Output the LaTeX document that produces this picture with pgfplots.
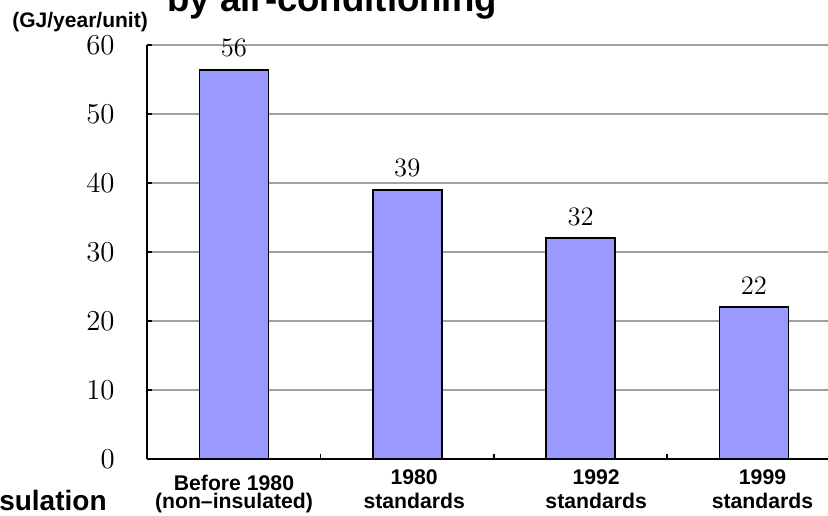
\documentclass[border=0pt]{standalone}
\usepackage{pgfplots}
\pgfplotsset{compat=1.18}
\usepackage{fontspec}
\setsansfont{Liberation Sans}
\definecolor{barblue}{HTML}{9999FF}
\definecolor{gridgray}{HTML}{A0A0A0}
\begin{document}
\begin{tikzpicture}[x=1pt,y=1pt]
\path[use as bounding box] (-73.5,-28) rectangle (340.5,229.5);
\clip (-73.5,-28) rectangle (340.5,229.5);
\begin{axis}[
  at={(0,0)}, anchor=south west,
  scale only axis, width=340.5pt, height=207pt,
  xmin=-0.502, xmax=3.428, ymin=0, ymax=60,
  axis x line*=bottom, axis y line*=left,
  axis line style={line width=0.75pt, black},
  ytick={0,10,...,60},
  ymajorgrids, grid style={gridgray, line width=0.75pt},
  tick align=inside,
  major tick length=2.5pt,
  tick style={black, line width=0.75pt},
  xtick={0.5,1.5,2.5}, xticklabels={},
  extra x ticks={0,1.04,2.09,3.05},
  extra x tick labels={{\rule{0pt}{10.4pt}Before 1980\\[-3.2pt](non--insulated)},{1980\\standards},{1992\\standards},{1999\\standards}},
  extra x tick style={major tick length=0pt},
  xticklabel style={font=\sffamily\bfseries\fontsize{10.6}{12.3}\selectfont, align=center, anchor=north, inner sep=0pt, yshift=-5pt},
  yticklabel style={font=\fontsize{13.3}{16}\selectfont, anchor=east, inner sep=0pt, xshift=-16pt},
]
\addplot[ybar, bar width=34.5pt, fill=barblue, draw=black, line width=0.8pt,
  point meta=explicit symbolic, nodes near coords,
  every node near coord/.append style={font=\fontsize{13.3}{16}\selectfont, anchor=base, yshift=6.5pt, black}]
  coordinates {(0,56.4)[56] (1,39)[39] (2,32)[32] (3,22)[22]};
\end{axis}
\node[anchor=base west, font=\sffamily\bfseries\fontsize{18.3}{22}\selectfont, inner sep=0pt] at (10,223.5) {by air-conditioning};
\node[anchor=base west, font=\sffamily\bfseries\fontsize{10.5}{12}\selectfont, inner sep=0pt] at (-67.5,215.5) {(GJ/year/unit)};
\node[anchor=base east, font=\sffamily\bfseries\fontsize{14}{16}\selectfont, inner sep=0pt] at (-20,-25.5) {Insulation};
\end{tikzpicture}
\end{document}
